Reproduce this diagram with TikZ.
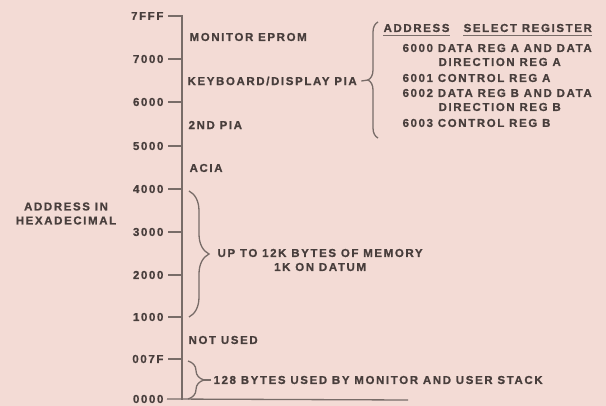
\documentclass[tikz,border=0pt]{standalone}
\usepackage{fontspec}
\setmainfont{Liberation Sans}[LetterSpace=14,BoldFeatures={FakeBold=0.8}]
\usetikzlibrary{decorations.pathreplacing,positioning}
\definecolor{paper}{RGB}{243,219,213}
\definecolor{ink}{RGB}{72,62,60}
\definecolor{rule}{RGB}{120,108,104}

\begin{document}
\begin{tikzpicture}[x=1pt,y=-1pt,line width=1.2pt,
  lbl/.style={font=\bfseries\fontsize{11.5}{14}\selectfont,text=ink,inner sep=0pt},
  axis/.style={draw=rule,line width=1.3pt},
  curly/.style={draw=rule,line width=1.3pt,decorate,decoration={brace,amplitude=#1}}]
% paper
\fill[paper] (0,0) rectangle (606,406);
\useasboundingbox (0,0) rectangle (606,406);
% address scale
\coordinate (axtop) at (182,16);
\coordinate (axbot) at (182,400);
\coordinate (baseend) at (408,400);
\foreach \addr/\y in {7FFF/16,7000/59,6000/102,5000/146,4000/189,3000/232,2000/275,1000/317,007F/359,0000/399}{
  \node[lbl,anchor=east] (a\addr) at (164,\y) {\addr};
}
\draw[axis] ([xshift=4pt]a7FFF.east) -| (axbot);
\foreach \addr in {7000,6000,5000,4000,3000,2000,1000,007F}{
  \draw[axis] ([xshift=4pt]a\addr.east) -- (a\addr -| axtop);
}
\draw[axis] ([xshift=3pt]a0000.east) -- (baseend);
\node[lbl,align=center] (hexnote) at (66,213.5) {ADDRESS IN\\HEXADECIMAL};
% memory map entries
\node[lbl,anchor=west] (eprom) at (189,37) {MONITOR EPROM};
\node[lbl,anchor=west] (kbd) at (187,81) {KEYBOARD/DISPLAY PIA};
\node[lbl,anchor=west] (pia2) at (188,125) {2ND PIA};
\node[lbl,anchor=west] (acia) at (189,168) {ACIA};
\node[lbl,anchor=west] (unused) at (188,340) {NOT USED};
% RAM brace
\draw[curly=20pt] (189,191) -- (189,317);
\node[lbl,anchor=west,align=center] (ram) at (217,260) {UP TO 12K BYTES OF MEMORY\\1K ON DATUM};
% stack brace
\draw[curly=16pt] (188,361) -- (188,399);
\coordinate (stktip) at (204,380);
\node[lbl,anchor=west] (stack) at (213,380) {128 BYTES USED BY MONITOR AND USER STACK};
\draw[axis] (stktip) -- ([xshift=-2pt]stack.west);
% PIA register brace
\draw[curly=10pt] (378,138) -- (378,22);
\coordinate (piatip) at (368,80);
\draw[axis] ([xshift=4pt]kbd.east) -- (piatip);
% register table
\node[lbl,anchor=west] (hdaddr) at (383,28) {ADDRESS};
\node[lbl,anchor=west] (hdsel) at (463,28) {SELECT REGISTER};
\draw[axis,line width=1.6pt] ([yshift=-3pt]hdaddr.south west) -- ([yshift=-3pt]hdaddr.south east);
\draw[axis,line width=1.6pt] ([yshift=-3pt]hdsel.south west) -- ([yshift=-3pt]hdsel.south east);
\node[lbl,anchor=west] (r6000) at (402,48) {6000 DATA REG A AND DATA};
\node[lbl,anchor=west] (r6000b) at (438,62) {DIRECTION REG A};
\node[lbl,anchor=west] (r6001) at (402,78) {6001 CONTROL REG A};
\node[lbl,anchor=west] (r6002) at (402,93) {6002 DATA REG B AND DATA};
\node[lbl,anchor=west] (r6002b) at (438,107) {DIRECTION REG B};
\node[lbl,anchor=west] (r6003) at (402,123) {6003 CONTROL REG B};
\end{tikzpicture}
\end{document}
